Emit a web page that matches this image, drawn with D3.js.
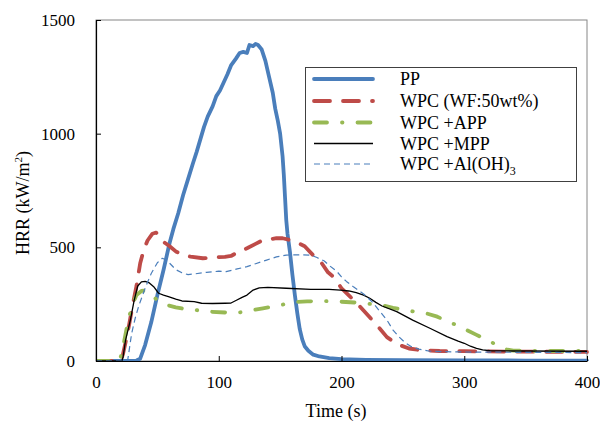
<!DOCTYPE html>
<html>
<head>
<meta charset="utf-8">
<script src="https://cdn.jsdelivr.net/npm/d3@7.9.0/dist/d3.min.js"></script>
<style>
  html, body { margin: 0; padding: 0; background: #fff; }
  svg text { font-family: 'Liberation Serif', 'Times New Roman', 'DejaVu Serif', serif; }
</style>
</head>
<body>
<svg id="chart" width="600" height="423"></svg>
<script>
// time (s) and HRR (kW/m2)
const ppTime = [0, 10, 20, 30, 33, 36, 40, 45, 50, 55, 60, 63, 67, 71, 75, 79, 82, 85, 88, 91, 95, 98, 101, 104, 107, 110, 114, 117, 120, 123, 125, 128, 130, 132, 135, 138, 141, 144, 146, 148, 150, 152, 153, 154, 155, 156, 158, 160, 162, 164, 166, 168, 170, 173, 177, 182, 190, 200, 220, 250, 300, 350, 400];
const ppHrr = [0, 0, 0, 0, 2, 10, 70, 170, 290, 400, 520, 580, 650, 730, 800, 870, 920, 975, 1030, 1075, 1120, 1165, 1190, 1225, 1260, 1300, 1330, 1355, 1360, 1355, 1390, 1385, 1395, 1390, 1370, 1320, 1250, 1180, 1110, 1060, 1000, 900, 820, 720, 620, 560, 480, 380, 290, 210, 140, 95, 65, 45, 28, 20, 13, 8, 5, 4, 3, 2, 2];

const wpcTime = [0, 20, 22, 24, 27, 30, 33, 36, 39, 42, 46, 49, 52, 56, 60, 65, 70, 77, 87, 98, 105, 110, 116, 123, 130, 136, 142, 147, 152, 158, 164, 170, 178, 183, 189, 194, 200, 207, 215, 223, 230, 237, 245, 255, 265, 280, 300, 320, 350, 400];
const wpcHrr = [0, 0, 30, 80, 160, 250, 330, 430, 490, 530, 560, 565, 540, 520, 505, 482, 470, 459, 452, 456, 458, 462, 480, 496, 515, 532, 536, 540, 540, 532, 520, 505, 459, 437, 390, 368, 320, 283, 240, 192, 150, 105, 75, 55, 47, 44, 43, 42, 41, 40];

const appTime = [0, 19, 20, 22, 25, 29, 33, 37, 40, 43, 47, 52, 58, 65, 72, 78, 93, 110, 120, 128, 136, 144, 150, 156, 163, 172, 183, 199, 215, 225, 234, 242, 251, 260, 269, 278, 286, 295, 302, 310, 318, 326, 334, 340, 351, 370, 400];
const appHrr = [0, 0, 15, 60, 144, 239, 290, 308, 310, 292, 280, 262, 246, 236, 229, 226, 217, 212, 215, 224, 232, 239, 246, 252, 260, 262, 264, 261, 256, 250, 244, 234, 224, 217, 210, 195, 175, 155, 136, 115, 94, 72, 51, 46, 44, 44, 44];

const mppTime = [0, 21, 22, 24, 28, 31, 34, 37, 40, 43, 47, 51, 55, 59, 65, 70, 80, 86, 95, 105, 110, 114, 119, 123, 128, 133, 140, 155, 175, 190, 199, 206, 212, 218, 223, 228, 233, 245, 258, 272, 286, 295, 300, 305, 310, 315, 321, 340, 400];
const mppHrr = [0, 0, 15, 90, 180, 265, 330, 348, 350, 345, 327, 298, 290, 283, 272, 264, 261, 254, 253, 254, 255, 266, 280, 290, 312, 322, 324, 320, 315, 315, 312, 308, 301, 290, 276, 258, 242, 217, 180, 144, 107, 87, 78, 65, 56, 49, 45, 44, 43];

const alohTime = [0, 25, 26, 29, 32, 35, 40, 45, 50, 54, 57, 60, 65, 70, 75, 80, 90, 100, 106, 115, 123, 130, 139, 147, 155, 166, 175, 180, 186, 190, 196, 200, 204, 210, 218, 225, 231, 237, 242, 247, 252, 257, 263, 272, 290, 320, 350, 400];
const alohHrr = [0, 0, 10, 120, 190, 245, 320, 385, 432, 452, 445, 430, 402, 388, 380, 383, 390, 395, 393, 405, 415, 428, 444, 458, 466, 467, 466, 455, 440, 420, 395, 370, 350, 325, 295, 260, 220, 180, 136, 105, 80, 63, 52, 43, 40, 39, 38, 37];

const seriesNames = ['PP', 'WPC (WF:50wt%)', 'WPC +APP', 'WPC +MPP', 'WPC +Al(OH)3'];
const xTicks = [0, 100, 200, 300, 400];
const yTicks = [0, 500, 1000, 1500];

const series = [
  { name: seriesNames[0], t: ppTime, v: ppHrr, color: '#4a7ebb', width: 3.8, dash: null, cap: 'round' },
  { name: seriesNames[1], t: wpcTime, v: wpcHrr, color: '#be4b48', width: 3.8, dash: '16,13', cap: 'round' },
  { name: seriesNames[2], t: appTime, v: appHrr, color: '#98b954', width: 3.8, dash: '13,15,0.5,15', cap: 'round' },
  { name: seriesNames[3], t: mppTime, v: mppHrr, color: '#000000', width: 1.3, dash: null, cap: 'butt' },
  { name: seriesNames[4], t: alohTime, v: alohHrr, color: '#4a7ebb', width: 1.2, dash: '6,4', cap: 'butt' },
];

const FONT = "'Liberation Serif', 'Times New Roman', 'DejaVu Serif', serif";

const svg = d3.select('#chart');
const plot = { left: 96, right: 587, top: 20, bottom: 361 };

const x = d3.scaleLinear().domain([0, 400]).range([plot.left, plot.right]);
const y = d3.scaleLinear().domain([0, 1500]).range([plot.bottom, plot.top]);

// frame
svg.append('rect')
  .attr('x', plot.left).attr('y', plot.top)
  .attr('width', plot.right - plot.left).attr('height', plot.bottom - plot.top)
  .attr('fill', 'none').attr('stroke', '#868686').attr('stroke-width', 1);

svg.append('clipPath').attr('id', 'plot-clip')
  .append('rect')
  .attr('x', plot.left).attr('y', plot.top - 5)
  .attr('width', plot.right - plot.left + 2).attr('height', plot.bottom - plot.top + 5);

const line = d3.line()
  .x((d) => x(d[0]))
  .y((d) => y(d[1]));

const lines = svg.append('g').attr('clip-path', 'url(#plot-clip)');
series.forEach((s) => {
  lines.append('path')
    .datum(s.t.map((t, i) => [t, s.v[i]]))
    .attr('d', line)
    .attr('fill', 'none')
    .attr('stroke', s.color)
    .attr('stroke-width', s.width)
    .attr('stroke-linejoin', 'round')
    .attr('stroke-linecap', s.cap)
    .attr('stroke-dasharray', s.dash);
});

// axes
const xAxis = svg.append('g')
  .attr('transform', `translate(0,${plot.bottom})`)
  .call(d3.axisBottom(x).tickValues(xTicks).tickFormat(d3.format('d'))
    .tickSizeInner(-5).tickSizeOuter(0));
const yAxis = svg.append('g')
  .attr('transform', `translate(${plot.left},0)`)
  .call(d3.axisLeft(y).tickValues(yTicks).tickFormat(d3.format('d'))
    .tickSizeInner(-5).tickSizeOuter(0).tickPadding(21));

[xAxis, yAxis].forEach((g) => {
  g.attr('font-family', FONT).attr('font-size', 17);
  g.select('.domain').attr('stroke', '#000').attr('stroke-width', 1.2);
  g.selectAll('.tick line').attr('stroke', '#000');
  g.selectAll('.tick text').attr('fill', '#000');
});
xAxis.selectAll('.tick text').attr('y', 15).attr('dy', '0.71em');

// axis titles
svg.append('text')
  .attr('x', 336).attr('y', 417)
  .attr('text-anchor', 'middle')
  .attr('font-family', FONT)
  .attr('font-size', 18)
  .text('Time (s)');

const yTitle = svg.append('text')
  .attr('transform', 'translate(29,203) rotate(-90)')
  .attr('text-anchor', 'middle')
  .attr('font-family', FONT)
  .attr('font-size', 18);
yTitle.append('tspan').text('HRR (kW/m');
yTitle.append('tspan').attr('dy', -7).attr('font-size', 11).text('2');
yTitle.append('tspan').attr('dy', 7).text(')');

// legend
const legend = svg.append('g').attr('font-family', FONT);
legend.append('rect')
  .attr('x', 305.5).attr('y', 67.5)
  .attr('width', 271).attr('height', 114)
  .attr('fill', '#fff').attr('stroke', '#404040').attr('stroke-width', 1);

const rowY = [79, 101, 122.5, 143.5, 164];
series.forEach((s, i) => {
  legend.append('line')
    .attr('x1', 314).attr('x2', 373)
    .attr('y1', rowY[i]).attr('y2', rowY[i])
    .attr('stroke', s.color)
    .attr('stroke-width', s.width)
    .attr('stroke-linecap', s.cap)
    .attr('stroke-dasharray', s.dash);
  const label = legend.append('text')
    .attr('x', 400).attr('y', rowY[i] + 6)
    .attr('font-size', 18);
  if (s.name.endsWith('3')) {
    label.append('tspan').text(s.name.slice(0, -1));
    label.append('tspan').attr('dy', 5).attr('font-size', 12).text('3');
  } else {
    label.text(s.name);
  }
});
</script>
</body>
</html>
